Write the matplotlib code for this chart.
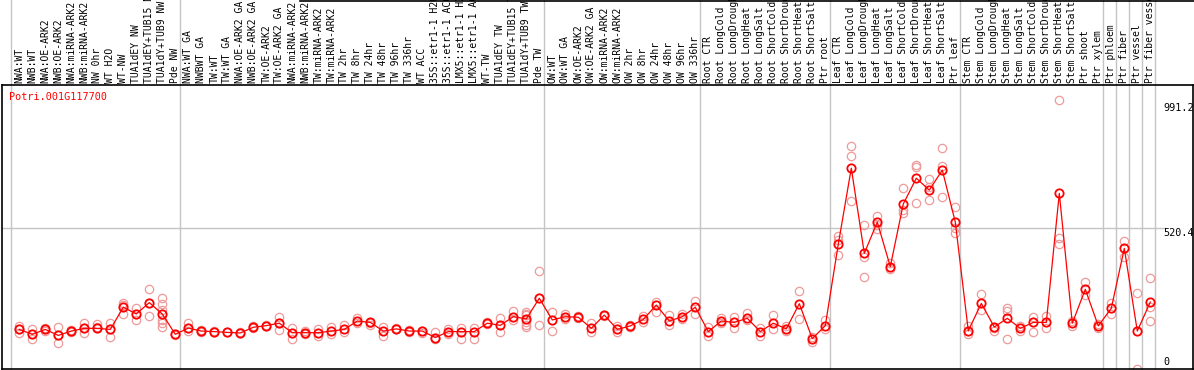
import matplotlib
matplotlib.use("Agg")
import matplotlib.pyplot as plt
import matplotlib.transforms as mtransforms
from matplotlib.lines import Line2D

# gene and sample names
gene = "Potri.001G117700"
samples = [
    "NWA:WT", "NWB:WT", "NWA:OE-ARK2", "NWB:OE-ARK2", "NWA:miRNA-ARK2", "NWB:miRNA-ARK2",
    "NW 0hr", "WT H2O", "WT-NW", "TUA1dEY NW", "TUA1dEY+TUB15 NW", "TUA1dY+TUB9 NW", "Pde NW",
    "NWA:WT GA", "NWBWT GA", "TW:WT", "TW:WT GA", "NWA:OE-ARK2 GA", "NWB:OE-ARK2 GA",
    "TW:OE-ARK2", "TW:OE-ARK2 GA", "NWA:miRNA-ARK2", "NWB:miRNA-ARK2", "TW:miRNA-ARK2",
    "TW:miRNA-ARK2", "TW 2hr", "TW 8hr", "TW 24hr", "TW 48hr", "TW 96hr", "TW 336hr", "WT ACC",
    "35S::etr1-1 H2O", "35S::etr1-1 ACC", "LMX5::etr1-1 H2O", "LMX5::etr1-1 ACC", "WT-TW",
    "TUA1dEY TW", "TUA1dEY+TUB15 TW", "TUA1dY+TUB9 TW", "Pde TW",
    "OW:WT", "OW:WT GA", "OW:OE-ARK2", "OW:OE-ARK2 GA", "OW:miRNA-ARK2", "OW:miRNA-ARK2",
    "OW 2hr", "OW 8hr", "OW 24hr", "OW 48hr", "OW 96hr", "OW 336hr",
    "Root CTR", "Root LongCold", "Root LongDrought", "Root LongHeat", "Root LongSalt",
    "Root ShortCold", "Root ShortDrought", "Root ShortHeat", "Root ShortSalt", "Ptr root",
    "Leaf CTR", "Leaf LongCold", "Leaf LongDrought", "Leaf LongHeat", "Leaf LongSalt",
    "Leaf ShortCold", "Leaf ShortDrought", "Leaf ShortHeat", "Leaf ShortSalt", "Ptr leaf",
    "Stem CTR", "Stem LongCold", "Stem LongDrought", "Stem LongHeat", "Stem LongSalt",
    "Stem ShortCold", "Stem ShortDrought", "Stem ShortHeat", "Stem ShortSalt",
    "Ptr shoot", "Ptr xylem", "Ptr phloem", "Ptr fiber", "Ptr vessel", "Ptr fiber vessel",
]

# mean expression per sample
means = [146, 128, 146, 124, 140, 150, 150, 146, 228, 203, 245, 203, 128,
         151, 140, 138, 135, 133, 154, 160, 169, 134, 134, 134, 140, 146, 177, 172, 140, 148,
         140, 140, 116, 138, 138, 138, 169, 161, 193, 185, 261,
         181, 193, 191, 150, 199, 146, 159, 183, 236, 177, 193, 228,
         138, 177, 172, 187, 138, 169, 148, 241, 112, 160,
         461, 741, 427, 542, 378, 609, 704, 660, 734, 542,
         141, 242, 155, 187, 150, 172, 172, 648, 169,
         294, 159, 224, 445, 140, 247]

# replicate values per sample
reps = [
    [159, 134, 146], [146, 112, 128], [150, 142, 146], [154, 95, 124], [135, 145, 140],
    [169, 132, 150], [165, 150, 155], [169, 117, 146], [245, 202, 235], [224, 181, 203],
    [294, 196, 245], [263, 240, 218, 181, 169, 156], [128, 125],
    [171, 140, 151], [135, 145], [138, 140], [135, 138], [133, 135], [150, 158], [160, 163],
    [191, 144, 169], [152, 112, 134], [140, 128], [147, 122], [156, 128], [162, 135],
    [189, 168], [168, 164], [156, 120], [148, 152], [135, 145], [132, 142], [138, 110, 116],
    [147, 130], [152, 111], [150, 111], [175, 165], [187, 135], [215, 180],
    [210, 204, 198, 172, 162, 156], [362, 162, 261],
    [209, 140], [203, 185], [195, 188], [169, 138], [201, 197], [160, 138], [162, 156],
    [196, 172], [248, 211], [199, 162], [202, 185], [250, 202],
    [156, 122], [187, 168], [193, 150], [205, 180], [150, 122], [199, 146], [157, 139],
    [289, 184], [101, 118], [181, 148],
    [491, 421, 475], [823, 786, 620], [530, 414, 338], [565, 515, 530], [390, 368],
    [667, 575, 585], [753, 744, 611], [700, 624, 670], [814, 749, 636], [597, 501, 520],
    [159, 130], [276, 218], [142, 150], [224, 215, 111], [160, 140], [193, 135], [196, 152],
    [991.2, 482, 460], [177, 160],
    [320, 273], [167, 150], [242, 203], [472, 412], [279, 0], [335, 228, 177],
]

# last sample index of each group (separators drawn after them)
group_ends = [-1, 12, 40, 52, 62, 72, 83, 84, 85, 86, 87]
y_ticks = [991.2, 520.4, 0]

W, H = 1194, 370
fig = plt.figure(figsize=(W / 100, H / 100), dpi=100)
ax = fig.add_axes([1.5 / W, 1 / H, 1191.5 / W, 284 / H])

x0, dx = 19.3, 13.0
ax.set_xlim((1.5 - x0) / dx, (1193 - x0) / dx)
ymax = 284 / 0.271
ax.set_ylim(0, ymax)
ax.set_xticks([])
ax.set_yticks([])
for s in ax.spines.values():
    s.set_color("black")
    s.set_linewidth(1.2)

mono = "DejaVu Sans Mono"
grey = "#c4c4c4"
top_frac = 1 + 85 / 284

# group separators running through label area
for g in group_ends:
    ax.axvline(g + 0.36, 0, top_frac, color=grey, lw=1, clip_on=False, zorder=1)
ax.plot([ax.get_xlim()[0], 88.1], [y_ticks[1]] * 2, color=grey, lw=1, zorder=1)

# replicates
for i, r in enumerate(reps):
    ax.plot([i] * len(r), r, "o", ms=6, mfc="none", mec="#ee9a9a", mew=0.9, zorder=2, clip_on=False)

xs = list(range(len(means)))
ax.plot(xs, means, "-", color="red", lw=0.9, zorder=3)
ax.plot(xs, means, "o", ms=6, mfc="none", mec="red", mew=1.3, zorder=4)

# sample labels
trans = mtransforms.blended_transform_factory(ax.transData, ax.transAxes)
for i, name in enumerate(samples):
    ax.text(i, 1.008, name, rotation=90, ha="center", va="bottom", transform=trans,
            fontsize=7, family=mono, clip_on=False)

ax.text(9.3 / W, (370 - 97) / H, gene, transform=fig.transFigure, color="red",
        fontsize=7.3, family=mono, va="center", ha="left")

ax.text(88.0, 980, "991.2", fontsize=7.3, family=mono, va="top", ha="left")
ax.text(88.0, y_ticks[1], "520.4", fontsize=7.3, family=mono, va="top", ha="left")
ax.text(88.0, 8, "0", fontsize=7.3, family=mono, va="bottom", ha="left")

fig.add_artist(Line2D([300 / W, 1], [1 - 0.5 / H, 1 - 0.5 / H], color="black", lw=1.2,
                      transform=fig.transFigure))

fig.savefig("out.png", dpi=100)
